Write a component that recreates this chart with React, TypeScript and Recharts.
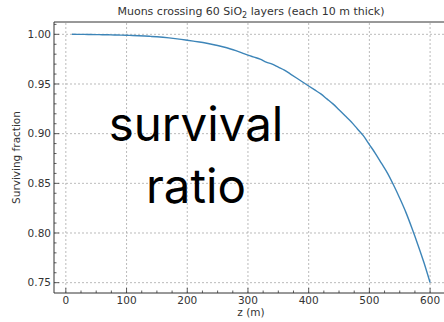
import React from 'react';
import { LineChart, Line, XAxis, YAxis, ReferenceLine } from 'recharts';

// depth after each 10 m layer (m)
const depths = [
  10, 20, 30, 40, 50, 60, 70, 80, 90, 100,
  110, 120, 130, 140, 150, 160, 170, 180, 190, 200,
  210, 220, 230, 240, 250, 260, 270, 280, 290, 300,
  310, 320, 330, 340, 350, 360, 370, 380, 390, 400,
  410, 420, 430, 440, 450, 460, 470, 480, 490, 500,
  510, 520, 530, 540, 550, 560, 570, 580, 590, 600,
];

// surviving fraction
const surviving = [
  1.0, 0.9999, 0.9999, 0.9998, 0.9997, 0.9996, 0.9995, 0.9993, 0.9992, 0.999,
  0.9988, 0.9986, 0.9983, 0.9979, 0.9975, 0.997, 0.9964, 0.9957, 0.9949, 0.994,
  0.9931, 0.9922, 0.9912, 0.99, 0.9887, 0.9872, 0.9855, 0.9836, 0.9814, 0.979,
  0.977, 0.975, 0.972, 0.97, 0.967, 0.964, 0.96, 0.956, 0.952, 0.948,
  0.944, 0.94, 0.935, 0.93, 0.924, 0.918, 0.912, 0.905, 0.898, 0.889,
  0.88, 0.87, 0.86, 0.848, 0.835, 0.821, 0.805, 0.788, 0.77, 0.75,
];

const xMajor = [0, 100, 200, 300, 400, 500, 600];
const xMinor = [25, 50, 75, 125, 150, 175, 225, 250, 275, 325, 350, 375, 425, 450, 475, 525, 550, 575, 625];
const yMajor = [0.75, 0.8, 0.85, 0.9, 0.95, 1.0];
const yMinor = [
  0.76, 0.77, 0.78, 0.79, 0.81, 0.82, 0.83, 0.84, 0.86, 0.87, 0.88, 0.89,
  0.91, 0.92, 0.93, 0.94, 0.96, 0.97, 0.98, 0.99, 1.01,
];

const xDomain: [number, number] = [-19.5, 629.5];
const yDomain: [number, number] = [0.7396, 1.0124];

const data = depths.map((z, i) => ({ z, s: surviving[i] }));

const FONT = '"DejaVu Sans", sans-serif';
const INK = '#333';
const GRID = '#aaa';

const XTick = (props: any) => {
  const { x, y, payload } = props;
  const major = xMajor.includes(payload.value);
  return (
    <g>
      <line x1={x} y1={y} x2={x} y2={y - (major ? 5 : 2.5)} stroke={INK} strokeWidth={0.8} />
      {major && (
        <text x={x} y={y + 11} textAnchor="middle" fontSize={10.5} fontFamily={FONT} fill={INK}>
          {payload.value}
        </text>
      )}
    </g>
  );
};

const YTick = (props: any) => {
  const { x, y, payload } = props;
  const major = yMajor.some((v) => Math.abs(v - payload.value) < 1e-6);
  return (
    <g>
      <line x1={x} y1={y} x2={x + (major ? 5 : 2.5)} y2={y} stroke={INK} strokeWidth={0.8} />
      {major && (
        <text x={x - 3} y={y + 3.8} textAnchor="end" fontSize={10.5} fontFamily={FONT} fill={INK}>
          {payload.value.toFixed(2)}
        </text>
      )}
    </g>
  );
};

const App = () => {
  return (
    <div style={{ position: 'absolute', left: 0, top: 0, width: 444, height: 322, overflow: 'hidden', background: '#fff' }}>
      <LineChart width={460} height={322} data={data} margin={{ top: 22, right: 12, bottom: 0, left: 0 }}>
        <XAxis
          dataKey="z"
          type="number"
          domain={xDomain}
          allowDataOverflow
          ticks={[...xMajor, ...xMinor]}
          interval={0}
          tickSize={0}
          tickMargin={0}
          tick={<XTick />}
          height={29}
          axisLine={{ stroke: INK, strokeWidth: 1 }}
        />
        <YAxis
          type="number"
          domain={yDomain}
          allowDataOverflow
          ticks={[...yMajor, ...yMinor]}
          interval={0}
          tickSize={0}
          tickMargin={0}
          tick={<YTick />}
          width={54}
          axisLine={{ stroke: INK, strokeWidth: 1 }}
        />
        {xMajor.map((v) => (
          <ReferenceLine key={'gx' + v} x={v} stroke={GRID} strokeDasharray="2 2" strokeWidth={0.8} />
        ))}
        {yMajor.map((v) => (
          <ReferenceLine key={'gy' + v} y={v} stroke={GRID} strokeDasharray="2 2" strokeWidth={0.8} />
        ))}
        <ReferenceLine y={yDomain[1]} stroke={INK} strokeWidth={1} />
        <ReferenceLine x={xDomain[1]} stroke={INK} strokeWidth={1} />
        <Line
          type="monotone"
          dataKey="s"
          stroke="#3d85b8"
          strokeWidth={1.4}
          dot={false}
          isAnimationActive={false}
        />
      </LineChart>
      <svg width={444} height={322} style={{ position: 'absolute', left: 0, top: 0, pointerEvents: 'none' }}>
        <text x={251} y={15} textAnchor="middle" fontSize={11} fontFamily={FONT} fill={INK}>
          Muons crossing 60 SiO
          <tspan dy={2.5} fontSize={8}>2</tspan>
          <tspan dy={-2.5}> layers (each 10 m thick)</tspan>
        </text>
        <text
          x={0}
          y={0}
          transform="translate(20,157.5) rotate(-90)"
          textAnchor="middle"
          fontSize={10.5}
          fontFamily={FONT}
          fill={INK}
        >
          Surviving fraction
        </text>
        <text x={251} y={316} textAnchor="middle" fontSize={10.5} fontFamily={FONT} fill={INK}>
          z (m)
        </text>
        <text x={196} y={141} textAnchor="middle" fontSize={47.5} fontFamily="Inter, sans-serif" fill="#000">
          survival
        </text>
        <text x={196} y={203} textAnchor="middle" fontSize={47.5} fontFamily="Inter, sans-serif" fill="#000">
          ratio
        </text>
      </svg>
    </div>
  );
};

export default App;
